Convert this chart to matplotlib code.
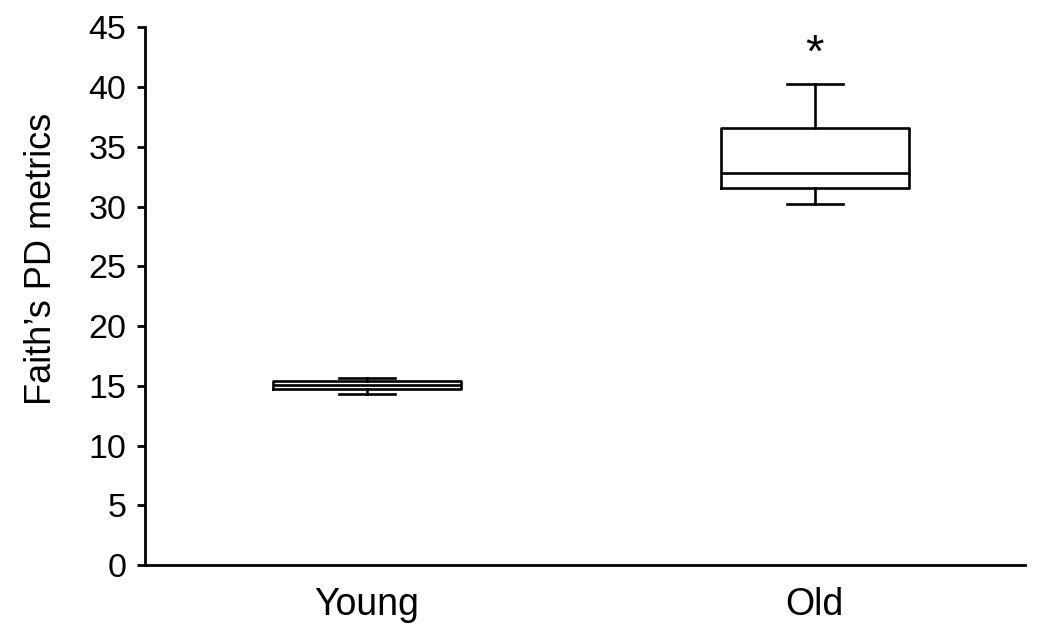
import matplotlib
matplotlib.use("Agg")
import matplotlib.pyplot as plt

plt.rcParams['font.family'] = ['Liberation Sans', 'DejaVu Sans']

groups = ["Young", "Old"]
whislo = [14.32, 30.24]
q1 = [14.72, 31.55]
med = [15.05, 32.83]
q3 = [15.38, 36.6]
whishi = [15.66, 40.27]
sig = ["", "*"]

stats = []
for i, g in enumerate(groups):
    stats.append(dict(label=g, whislo=whislo[i], q1=q1[i], med=med[i],
                      q3=q3[i], whishi=whishi[i], fliers=[]))

fig = plt.figure(figsize=(10.48, 6.35), dpi=100)
ax = fig.add_axes([0.138, 0.11, 0.84, 0.847])

lw = 1.9
ax.bxp(stats, positions=[0, 1], widths=0.42, showfliers=False,
       boxprops=dict(color='black', linewidth=lw),
       medianprops=dict(color='black', linewidth=lw),
       whiskerprops=dict(color='black', linewidth=lw),
       capprops=dict(color='black', linewidth=lw),
       capwidths=0.125)

for i, s in enumerate(sig):
    if s:
        ax.text(i, whishi[i] + 2.4, s, ha='center', va='center', fontsize=34)

ax.set_xlim(-0.497, 1.47)
ax.set_ylim(0, 45)
ax.set_yticks(range(0, 46, 5))
ax.set_ylabel("Faith’s PD metrics", fontsize=26)
ax.yaxis.set_label_coords(-0.097, 0.57)
ax.tick_params(axis='y', labelsize=24.5, length=6, width=2, direction='out', pad=7)
ax.tick_params(axis='x', labelsize=27, length=0, pad=16)
ax.spines['top'].set_visible(False)
ax.spines['right'].set_visible(False)
ax.spines['left'].set_linewidth(2)
ax.spines['bottom'].set_linewidth(2)

fig.savefig("out.png", dpi=100)
